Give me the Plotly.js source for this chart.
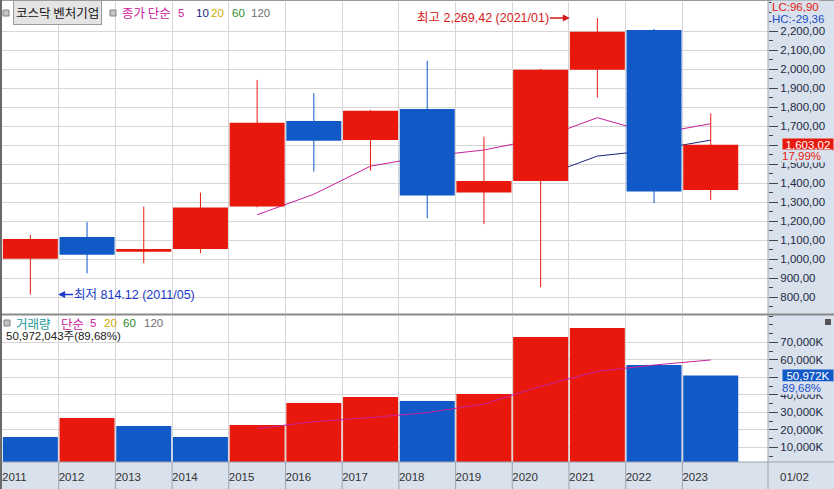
<!DOCTYPE html>
<html><head><meta charset="utf-8">
<script src="https://cdn.plot.ly/plotly-3.0.1.min.js"></script>
<style>html,body{margin:0;padding:0;background:#fff;}#chart{width:834px;height:489px;}</style>
</head><body><div id="chart"></div>
<script>
// ---- data ----
const years = ['2011','2012','2013','2014','2015','2016','2017','2018','2019','2020','2021','2022','2023'];
const openP  = [1002, 1117, 1040, 1054, 1277, 1728, 1628, 1791, 1351, 1412, 1997, 2207, 1365];
const highP  = [1128, 1195, 1277, 1351, 1944, 1874, 1786, 2044, 1645, 2002, 2269.42, 2212, 1768];
const lowP   = [814.12, 926, 979, 1032, 1273, 1461, 1465, 1216, 1185, 853, 1851, 1295, 1312];
const closeP = [1107, 1024, 1054, 1272, 1719, 1624, 1782, 1335, 1412, 1997, 2198, 1356, 1603.02];
const ma5    = [null, null, null, null, 1234, 1342, 1490, 1542, 1575, 1635, 1745, 1660, 1713];
const ma10   = [null, null, null, null, null, null, null, null, null, 1433, 1543, 1575, 1627];
const volumeK = [15900, 26700, 22200, 15900, 22700, 35300, 38700, 36500, 40500, 73000, 78200, 57000, 50972];
const volMa5K = [null, null, null, null, 20700, 24600, 27000, 29800, 34700, 44800, 53400, 57000, 59900];
const priceTicks = [800, 900, 1000, 1100, 1200, 1300, 1400, 1500, 1600, 1700, 1800, 1900, 2000, 2100, 2200];
// the 1,600,00 label is fully hidden behind the last-price box in the reference
const priceTickText = ['800,00','900,00','1,000,00','1,100,00','1,200,00','1,300,00','1,400,00','1,500,00','','1,700,00','1,800,00','1,900,00','2,000,00','2,100,00','2,200,00'];
const volTicks = [10000, 20000, 30000, 40000, 50000, 60000, 70000];
// the 50,000K label is fully hidden behind the last-volume box in the reference
const volTickText = ['10,000K','20,000K','30,000K','40,000K','','60,000K','70,000K'];
const lastPriceText = '1,603,02';
const lastPricePct = '17,99%';
const lastVolText = '50,972K';
const lastVolPct = '89,68%';
const highText = '최고 2,269,42 (2021/01)';
const lowText = '최저 814.12 (2011/05)';

// ---- style ----
const RED = '#e8190c', BLUE = '#1259c8', MAG = '#c8209c', NAVY = '#1a237e';
const GOLD = '#d4a800', GREEN = '#2a8a2a', GRAY = '#707070', TEAL = '#22999a';
const AXBG = '#d9e1ec', GRID = '#d6d6d6', SEP = '#9aa4b0';
const NUMF = '"Liberation Sans", Arial, sans-serif';
const KRF = '"Liberation Sans", "Noto Sans CJK KR", sans-serif';
const KR = '"Noto Sans CJK KR", sans-serif';
const NS = 11.5;

const idx = years.map((_, i) => i);
const PL = 2, PW = 766, PB = 462, PH = 460;
const fx = p => (p - PL) / PW;
const fy = p => (PB - p) / PH;

const isUp = closeP.map((c, i) => c >= openP[i]);
const bodyBase = openP.map((o, i) => Math.min(o, closeP[i]));
const bodyLen = openP.map((o, i) => Math.abs(closeP[i] - o));
const bodyCol = isUp.map(u => u ? RED : BLUE);

function wicks(up) {
  const xs = [], ys = [];
  idx.forEach(i => { if (isUp[i] === up) { xs.push(i, i, null); ys.push(lowP[i], highP[i], null); } });
  return {xs, ys};
}
const wu = wicks(true), wd = wicks(false);
const volCol = volumeK.map((v, i) => (i > 0 && v > volumeK[i - 1]) ? RED : BLUE);
const bounds = idx.map(i => i - 0.5);

const traces = [
  {type:'scatter', mode:'lines', x:idx, y:ma10, xaxis:'x2', yaxis:'y', line:{color:NAVY, width:1}, hoverinfo:'skip'},
  {type:'scatter', mode:'lines', x:idx, y:ma5, xaxis:'x2', yaxis:'y', line:{color:MAG, width:1}, hoverinfo:'skip'},
  {type:'bar', x:idx, y:bodyLen, base:bodyBase, width:0.97, xaxis:'x2', yaxis:'y3', marker:{color:bodyCol, line:{width:0}}, hoverinfo:'skip'},
  {type:'scatter', mode:'lines', x:wu.xs, y:wu.ys, xaxis:'x2', yaxis:'y3', line:{color:RED, width:1}, hoverinfo:'skip'},
  {type:'scatter', mode:'lines', x:wd.xs, y:wd.ys, xaxis:'x2', yaxis:'y3', line:{color:BLUE, width:1}, hoverinfo:'skip'},
  {type:'bar', x:idx, y:volumeK, width:0.97, xaxis:'x', yaxis:'y2', marker:{color:volCol, line:{width:0}}, hoverinfo:'skip'},
  {type:'scatter', mode:'lines', x:idx, y:volMa5K, xaxis:'x', yaxis:'y2', line:{color:MAG, width:1}, hoverinfo:'skip'}
];

function txt(text, px, py, color, size, family, extra) {
  return Object.assign({xref:'paper', yref:'paper', x:fx(px), y:fy(py), xanchor:'left', yanchor:'middle',
    text:text, showarrow:false, borderpad:0, font:{color:color, size:size, family:family}}, extra || {});
}

const annotations = [
  txt('코스닥 벤처기업', 13, 13, '#111', 12.5, KR, {bgcolor:'#e4e4e4', bordercolor:'#9a9a9a', borderwidth:1, borderpad:2}),
  txt('종가 단순', 121, 13, MAG, 12.5, KR),
  txt('5', 177, 13, MAG, NS, NUMF),
  txt('10', 195, 13, NAVY, NS, NUMF),
  txt('20', 210, 13, GOLD, NS, NUMF),
  txt('60', 231, 13, GREEN, NS, NUMF),
  txt('120', 250, 13, GRAY, NS, NUMF),
  txt('거래량', 15, 323, TEAL, 12.5, KR),
  txt('단순', 60, 323, MAG, 12.5, KR),
  txt('5', 89, 323, MAG, NS, NUMF),
  txt('20', 103, 323, GOLD, NS, NUMF),
  txt('60', 122, 323, GREEN, NS, NUMF),
  txt('120', 143, 323, GRAY, NS, NUMF),
  txt('50,972,043주(89,68%)', 5, 335.5, '#222', NS, KRF),
  txt('LC:96,90', 771, 7, RED, NS, NUMF, {bgcolor:AXBG}),
  txt('HC:-29,36', 771, 19, '#1a4fc8', NS, NUMF, {bgcolor:AXBG}),
  {xref:'paper', yref:'y', x:fx(782), y:closeP[12], xanchor:'left', yanchor:'middle', text:lastPriceText, showarrow:false,
   bgcolor:RED, width:50, height:11, borderpad:0, align:'center', font:{color:'#fff', size:NS, family:NUMF}},
  txt(lastPricePct, 781, 155.5, RED, NS, NUMF, {bgcolor:AXBG, width:50, align:'left'}),
  {xref:'paper', yref:'y2', x:fx(782), y:volumeK[12], xanchor:'left', yanchor:'middle', text:lastVolText, showarrow:false,
   bgcolor:BLUE, width:50, height:11, borderpad:0, align:'center', font:{color:'#fff', size:NS, family:NUMF}},
  txt(lastVolPct, 781, 387.5, '#1a4fc8', NS, NUMF, {bgcolor:AXBG, width:50, align:'left'}),
  txt('01/02', 779, 477, '#333', NS, NUMF),
  {xref:'x2', yref:'y', x:9.515, y:highP[10], ax:-20, ay:0, axref:'pixel', ayref:'pixel', xanchor:'right', yanchor:'middle',
   text:highText, showarrow:true, arrowhead:2, arrowsize:1, arrowwidth:1.4, arrowcolor:'#d41a1a', standoff:0, borderpad:0,
   font:{color:'#d41a1a', size:12.5, family:KRF}},
  {xref:'x2', yref:'y', x:0.49, y:lowP[0], ax:15, ay:0, axref:'pixel', ayref:'pixel', xanchor:'left', yanchor:'middle',
   text:lowText, showarrow:true, arrowhead:2, arrowsize:1, arrowwidth:1.4, arrowcolor:'#1a3ac8', standoff:0, borderpad:0,
   font:{color:'#1a3ac8', size:12.5, family:KRF}}
];

const shapes = [
  {type:'rect', xref:'paper', yref:'paper', x0:1, x1:fx(836), y0:fy(491), y1:fy(-2), fillcolor:AXBG, line:{width:0}, layer:'below'},
  {type:'rect', xref:'paper', yref:'paper', x0:fx(0), x1:fx(836), y0:fy(491), y1:0, fillcolor:AXBG, line:{width:0}, layer:'below'},
  {type:'line', xref:'paper', yref:'paper', x0:fx(0), x1:fx(834), y0:0, y1:0, line:{color:SEP, width:1}},
  {type:'line', xref:'paper', yref:'paper', x0:1, x1:1, y0:fy(489), y1:fy(0), line:{color:SEP, width:1}},
  {type:'line', xref:'paper', yref:'paper', x0:fx(0), x1:fx(834), y0:fy(314.5), y1:fy(314.5), line:{color:'#8a8a8a', width:2}},
  {type:'line', xref:'paper', yref:'paper', x0:fx(0), x1:fx(834), y0:fy(0.5), y1:fy(0.5), line:{color:'#9a9a9a', width:1}},
  {type:'line', xref:'paper', yref:'paper', x0:fx(1), x1:fx(1), y0:fy(489), y1:fy(0), line:{color:'#6a6a6a', width:2}},
  {type:'rect', xref:'paper', yref:'paper', x0:fx(3), x1:fx(9), y0:fy(16), y1:fy(10), fillcolor:'#c4c4c4', line:{color:'#808080', width:1}},
  {type:'rect', xref:'paper', yref:'paper', x0:fx(110), x1:fx(116), y0:fy(16), y1:fy(10), fillcolor:'#c4c4c4', line:{color:'#808080', width:1}},
  {type:'rect', xref:'paper', yref:'paper', x0:fx(4), x1:fx(10), y0:fy(326), y1:fy(320), fillcolor:'#c4c4c4', line:{color:'#808080', width:1}},
  {type:'rect', xref:'paper', yref:'paper', x0:fx(825), x1:fx(831), y0:fy(325), y1:fy(319), fillcolor:'#555', line:{width:0}}
].concat(bounds.slice(1).map(b => ({type:'line', xref:'x', yref:'paper', x0:b, x1:b, y0:fy(489), y1:0, line:{color:SEP, width:1}})));

const priceDomain = [fy(313), 1];
const priceRange = [717, 2354];

const layout = {
  width:834, height:489, margin:{l:PL, r:66, t:2, b:27, pad:0},
  paper_bgcolor:'#ffffff', plot_bgcolor:'#ffffff', showlegend:false, barmode:'overlay',
  hovermode:false,
  xaxis:{anchor:'y2', domain:[0,1], range:[-0.5, 13.01], tickmode:'array', tickvals:bounds, ticktext:years,
    ticklabelposition:'outside right', ticklabelstandoff:6, ticks:'', showgrid:true, gridcolor:GRID, gridwidth:1, zeroline:false, showline:false,
    tickfont:{size:NS, color:'#333', family:NUMF}, fixedrange:true},
  xaxis2:{anchor:'y', matches:'x', domain:[0,1], range:[-0.5, 13.01], tickmode:'array', tickvals:bounds, showticklabels:false,
    ticks:'', showgrid:true, gridcolor:GRID, gridwidth:1, zeroline:false, showline:false},
  yaxis:{anchor:'x2', domain:priceDomain, range:priceRange, side:'right', tickmode:'array', tickvals:priceTicks,
    ticktext:priceTickText, ticks:'outside', ticklen:9, tickwidth:1, tickcolor:'#444', showgrid:true, gridcolor:GRID,
    zeroline:false, showline:false, tickfont:{size:NS, color:'#222a44', family:NUMF},
    minor:{tickmode:'linear', tick0:0, dtick:50, ticks:'outside', ticklen:4, tickcolor:'#444', showgrid:false}},
  yaxis3:{anchor:'x2', overlaying:'y', domain:priceDomain, range:priceRange, side:'right', showticklabels:false,
    ticks:'', showgrid:false, zeroline:false, showline:false},
  yaxis2:{anchor:'x', domain:[0, fy(316)], range:[1600, 85000], side:'right', tickmode:'array', tickvals:volTicks,
    ticktext:volTickText, ticks:'outside', ticklen:9, tickwidth:1, tickcolor:'#444', showgrid:true, gridcolor:GRID,
    zeroline:false, showline:false, tickfont:{size:NS, color:'#222a44', family:NUMF},
    minor:{tickmode:'linear', tick0:0, dtick:5000, ticks:'outside', ticklen:4, tickcolor:'#444', showgrid:false}},
  annotations:annotations,
  shapes:shapes
};

Plotly.newPlot('chart', traces, layout, {staticPlot:true, displayModeBar:false});
</script>
</body></html>
